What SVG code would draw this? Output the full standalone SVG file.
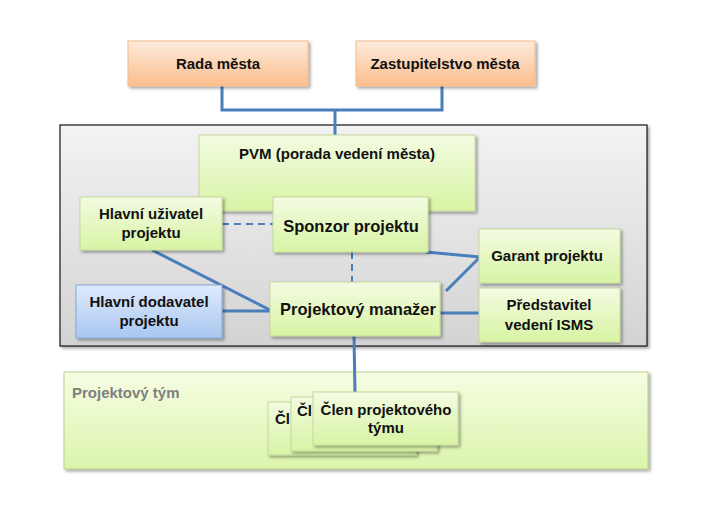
<svg xmlns="http://www.w3.org/2000/svg" width="704" height="514" viewBox="0 0 704 514">
<defs>
<linearGradient id="gOr" x1="0" y1="0" x2="0" y2="1"><stop offset="0" stop-color="#fdebdc"/><stop offset="1" stop-color="#fbbe8c"/></linearGradient>
<linearGradient id="gGr" x1="0" y1="0" x2="0" y2="1"><stop offset="0" stop-color="#f3fbe2"/><stop offset="1" stop-color="#d8f4a4"/></linearGradient>
<linearGradient id="gBl" x1="0" y1="0" x2="0" y2="1"><stop offset="0" stop-color="#dfeafb"/><stop offset="1" stop-color="#a9c7f1"/></linearGradient>
<linearGradient id="gGy" x1="0" y1="0" x2="0" y2="1"><stop offset="0" stop-color="#f3f3f3"/><stop offset="1" stop-color="#d3d3d3"/></linearGradient>
<linearGradient id="gTm" x1="0" y1="0" x2="0" y2="1"><stop offset="0" stop-color="#f6fde3"/><stop offset="1" stop-color="#dcf5ac"/></linearGradient>
<filter id="sh" x="-10%" y="-10%" width="130%" height="140%"><feDropShadow dx="2" dy="2" stdDeviation="1.5" flood-color="#000" flood-opacity="0.35"/></filter>
</defs>
<style>
text{font-family:"Liberation Sans",Arial,sans-serif;font-weight:bold;fill:#111;text-anchor:middle;font-size:15px}
.big{font-size:16.5px}
.or{fill:url(#gOr);stroke:#f2b98a;stroke-width:1}
.gr{fill:url(#gGr);stroke:#c4d99e;stroke-width:1}
.bl{fill:url(#gBl);stroke:#86a6d4;stroke-width:1}
.ln{stroke:#4a7ebb;stroke-width:3;fill:none}
.ds{stroke:#4a7ebb;stroke-width:2;fill:none;stroke-dasharray:7 5}
</style>
<rect id="container" x="60" y="125" width="587" height="221" fill="url(#gGy)" stroke="#1a1a1a" stroke-width="1.2" filter="url(#sh)"/>
<g id="team-container">
<rect x="64" y="372" width="584" height="97" fill="url(#gTm)" stroke="#b5cf8c" stroke-width="1" filter="url(#sh)"/>
<text x="72" y="398" style="text-anchor:start;fill:#7f7f7f">Projektový tým</text>
</g>
<g id="connectors">
<polyline class="ln" points="222,86 222,110 442,110 442,86"/>
<line class="ln" x1="335" y1="110" x2="335" y2="136"/>
<line class="ds" x1="222" y1="224" x2="273" y2="224"/>
<line class="ds" x1="352" y1="252" x2="352" y2="282"/>
<line class="ln" x1="152" y1="250" x2="272" y2="311"/>
<line class="ln" x1="222" y1="311" x2="272" y2="311"/>
<line class="ln" x1="426" y1="252" x2="480" y2="257"/>
<line class="ln" x1="446" y1="291" x2="480" y2="257"/>
<line class="ln" x1="438" y1="313" x2="480" y2="313"/>
<line class="ln" x1="354" y1="336" x2="355" y2="393"/>
</g>
<g id="rada"><rect class="or" x="128" y="41" width="180" height="45" filter="url(#sh)"/><text x="218" y="69">Rada města</text></g>
<g id="zastupitelstvo"><rect class="or" x="356" y="41" width="179" height="45" filter="url(#sh)"/><text x="445" y="69">Zastupitelstvo města</text></g>
<g id="pvm"><rect class="gr" x="199" y="135" width="276" height="76" filter="url(#sh)"/><text x="337" y="159">PVM (porada vedení města)</text></g>
<g id="uzivatel"><rect class="gr" x="80" y="197" width="142" height="53" filter="url(#sh)"/><text x="151" y="219">Hlavní uživatel</text><text x="151" y="238">projektu</text></g>
<g id="sponzor"><rect class="gr" x="273" y="197" width="155" height="55" filter="url(#sh)"/><text class="big" x="351" y="232">Sponzor projektu</text></g>
<g id="garant"><rect class="gr" x="479" y="229" width="141" height="54" filter="url(#sh)"/><text x="547" y="261">Garant projektu</text></g>
<g id="predstavitel"><rect class="gr" x="479" y="288" width="141" height="54" filter="url(#sh)"/><text x="549" y="310">Představitel</text><text x="549" y="330">vedení ISMS</text></g>
<g id="dodavatel"><rect class="bl" x="76" y="285" width="146" height="53" filter="url(#sh)"/><text x="149" y="307">Hlavní dodavatel</text><text x="149" y="326">projektu</text></g>
<g id="manazer"><rect class="gr" x="270" y="282" width="170" height="54" filter="url(#sh)"/><text class="big" x="358" y="315">Projektový manažer</text></g>
<g id="clen1"><rect class="gr" x="268" y="402" width="148" height="53" filter="url(#sh)"/><text x="275" y="424" style="text-anchor:start">Čl</text></g>
<g id="clen2"><rect class="gr" x="291" y="397" width="146" height="54" filter="url(#sh)"/><text x="297" y="416" style="text-anchor:start">Čl</text></g>
<g id="clen3"><rect class="gr" x="313" y="392" width="145" height="53" filter="url(#sh)"/><text x="386" y="415">Člen projektového</text><text x="386" y="433">týmu</text></g>
</svg>
